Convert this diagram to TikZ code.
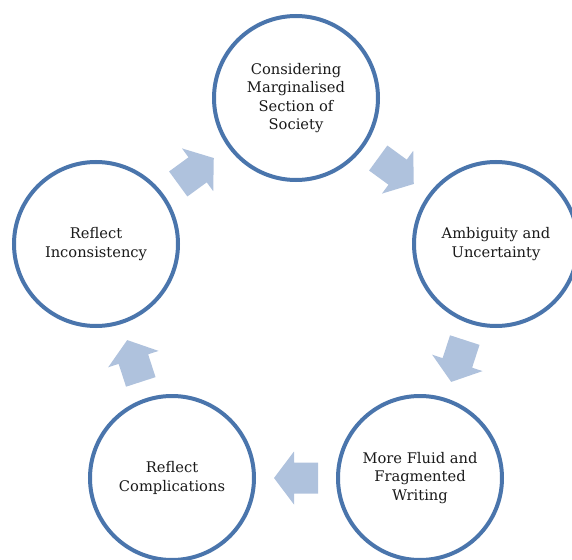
\documentclass[tikz,border=0pt]{standalone}
\usepackage{fontspec}
\setmainfont{DejaVu Serif}
\usetikzlibrary{calc}
\definecolor{ringblue}{HTML}{4A75AC}
\definecolor{arrowblue}{HTML}{AFC2DD}
\definecolor{textgray}{HTML}{1A1A1A}
\tikzset{
  stage/.style={circle, draw=ringblue, line width=3pt, fill=white,
    minimum size=123pt, inner sep=0pt, align=center, text=textgray,
    font=\fontsize{11}{13.6}\selectfont},
  blockarrow/.pic={\fill[arrowblue] (-22,-15.5) -- (2,-15.5) -- (2,-26.5) -- (22,0)
     -- (2,26.5) -- (2,15.5) -- (-22,15.5) -- cycle;}
}
\begin{document}
\begin{tikzpicture}[x=0.75pt,y=-0.75pt]
\useasboundingbox (0,0) rectangle (572,560);
\clip (0,0) rectangle (572,560);
\node[stage] (top) at (296,98) {Considering\\Marginalised\\Section of\\Society};
\node[stage] (right) at (496,244) {Ambiguity and\\Uncertainty};
\node[stage] (br) at (420,478) {More Fluid and\\Fragmented\\Writing};
\node[stage] (bl) at (172,478) {Reflect\\Complications};
\node[stage] (left) at (96,244) {Reflect\\Inconsistency};
\foreach \a/\b in {left/top, top/right, right/br, br/bl, bl/left}{
  \path let \p1=(\a), \p2=(\b), \n1={atan2(\y2-\y1,\x2-\x1)} in
    pic[rotate=\n1] at ($(\p1)!0.5!(\p2)$) {blockarrow};
}
\end{tikzpicture}
\end{document}
